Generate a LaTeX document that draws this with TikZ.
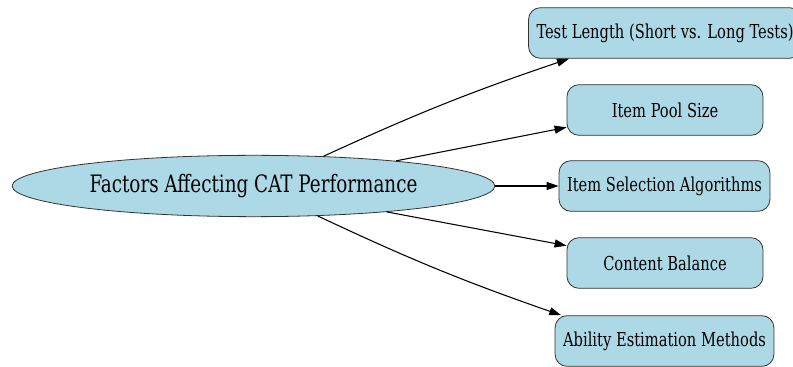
\documentclass[tikz,border=0pt]{standalone}
\usepackage{fontspec}
\setmainfont{DejaVu Serif Condensed}[FakeStretch=0.85]
\usetikzlibrary{arrows.meta,shapes.geometric}

\definecolor{lightblue}{HTML}{ADD8E6}

\tikzset{
    mainnode/.style={ellipse, draw=black!80, fill=lightblue, inner sep=0pt, semithick,
        minimum width=362pt, minimum height=46pt, font=\fontsize{18}{20}\selectfont},
    factor/.style={rectangle, rounded corners=9pt, draw=black!80, fill=lightblue, semithick,
        minimum width=147pt, minimum height=38pt, inner xsep=6pt,
        font=\fontsize{14.4}{16}\selectfont},
    arr/.style={-{Triangle[length=9pt,width=6pt]}, thick}
}

\begin{document}
\begin{tikzpicture}[x=0.75pt,y=-0.75pt]
    \useasboundingbox (0,0) rectangle (793,367);

    \node[mainnode] (factors) at (253.5,186) {Factors Affecting CAT Performance};

    \node[factor] (testlen) at (665,33) {Test Length (Short vs. Long Tests)};
    \node[factor] (pool) at (665,110) {Item Pool Size};
    \node[factor] (select) at (664.5,186) {Item Selection Algorithms};
    \node[factor] (balance) at (665,263) {Content Balance};
    \node[factor] (ability) at (664.5,341) {Ability Estimation Methods};

    \draw[arr] (factors.23) to[bend left=3] (testlen.195);
    \draw[arr] (factors.10) -- (pool.190);
    \draw[arr] (factors.0) -- (select.180);
    \draw[arr] (factors.-11) -- (balance.170);
    \draw[arr] (factors.-25) to[bend right=3] (ability.166);
\end{tikzpicture}
\end{document}
